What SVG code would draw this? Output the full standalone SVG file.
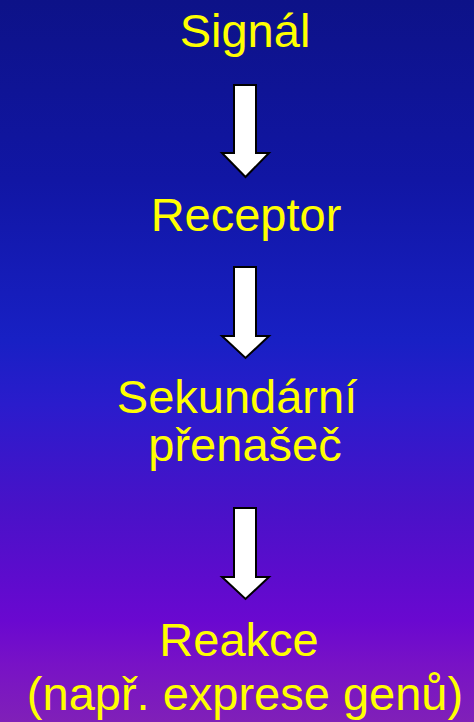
<svg xmlns="http://www.w3.org/2000/svg" width="474" height="722" viewBox="0 0 474 722">
<defs>
<linearGradient id="bg" x1="0" y1="0" x2="0" y2="1">
<stop offset="0" stop-color="#0d1288"/>
<stop offset="0.25" stop-color="#1116a4"/>
<stop offset="0.47" stop-color="#1820c4"/>
<stop offset="0.56" stop-color="#2a1ccc"/>
<stop offset="0.7" stop-color="#4812c8"/>
<stop offset="0.86" stop-color="#6a08d0"/>
<stop offset="0.92" stop-color="#7812c6"/>
<stop offset="1" stop-color="#8020b8"/>
</linearGradient>
<style>
.t{font-family:"Liberation Sans",Arial,sans-serif;font-size:47px;fill:#ffff00;text-anchor:middle}
.a{fill:#ffffff;stroke:#000000;stroke-width:2;stroke-linejoin:miter}
</style>
</defs>
<rect width="474" height="722" fill="url(#bg)"/>
<g id="signal"><text class="t" x="245" y="47">Signál</text></g>
<g id="receptor"><text class="t" x="246" y="231">Receptor</text></g>
<g id="sekundarni"><text class="t" x="237" y="413">Sekundární</text><text class="t" x="245" y="461">přenašeč</text></g>
<g id="reakce"><text class="t" x="239" y="656">Reakce</text><text class="t" x="245" y="710">(např. exprese genů)</text></g>
<g id="connectors">
<path class="a" d="M234,85 H256 V153 H269 L245.5,177 L222,153 H234 Z"/>
<path class="a" d="M234,267 H256 V336 H269 L245.5,358 L222,336 H234 Z"/>
<path class="a" d="M234,508 H256 V577 H269 L245.5,599 L222,577 H234 Z"/>
</g>
</svg>
